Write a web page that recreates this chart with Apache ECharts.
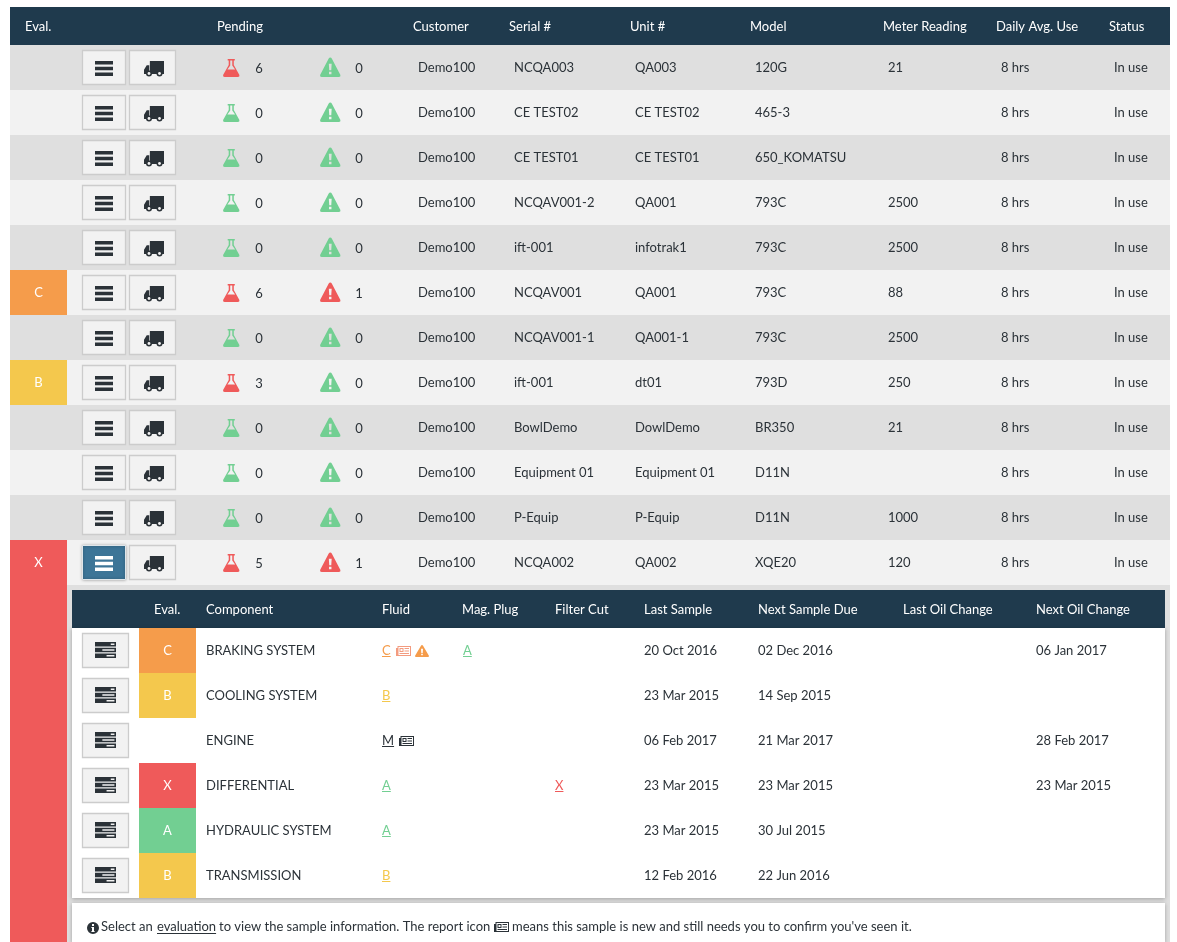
<!DOCTYPE html>
<html>
<head>
<meta charset="utf-8">
<title>Equipment list</title>
<script src="https://cdn.jsdelivr.net/npm/echarts@6/dist/echarts.min.js"></script>
<style>
  html, body { margin: 0; padding: 0; background: #fff; }
  #chart { width: 1177px; height: 942px; }
</style>
</head>
<body>
<div id="chart"></div>
<script>
// equipment rows
const rowEvals = ['', '', '', '', '', 'C', '', 'B', '', '', '', 'X'];
const pendingSamples = [6, 0, 0, 0, 0, 6, 0, 3, 0, 0, 0, 5];
const pendingAlerts = [0, 0, 0, 0, 0, 1, 0, 0, 0, 0, 0, 1];
const customers = ['Demo100', 'Demo100', 'Demo100', 'Demo100', 'Demo100', 'Demo100', 'Demo100', 'Demo100', 'Demo100', 'Demo100', 'Demo100', 'Demo100'];
const serials = ['NCQA003', 'CE TEST02', 'CE TEST01', 'NCQAV001-2', 'ift-001', 'NCQAV001', 'NCQAV001-1', 'ift-001', 'BowlDemo', 'Equipment 01', 'P-Equip', 'NCQA002'];
const units = ['QA003', 'CE TEST02', 'CE TEST01', 'QA001', 'infotrak1', 'QA001', 'QA001-1', 'dt01', 'DowlDemo', 'Equipment 01', 'P-Equip', 'QA002'];
const models = ['120G', '465-3', '650_KOMATSU', '793C', '793C', '793C', '793C', '793D', 'BR350', 'D11N', 'D11N', 'XQE20'];
const meters = ['21', '', '', '2500', '2500', '88', '2500', '250', '21', '', '1000', '120'];
const dailyUse = ['8 hrs', '8 hrs', '8 hrs', '8 hrs', '8 hrs', '8 hrs', '8 hrs', '8 hrs', '8 hrs', '8 hrs', '8 hrs', '8 hrs'];
const statuses = ['In use', 'In use', 'In use', 'In use', 'In use', 'In use', 'In use', 'In use', 'In use', 'In use', 'In use', 'In use'];
const activeRow = 11;

// component rows of the open equipment
const compEvals = ['C', 'B', '', 'X', 'A', 'B'];
const compNames = ['BRAKING SYSTEM', 'COOLING SYSTEM', 'ENGINE', 'DIFFERENTIAL', 'HYDRAULIC SYSTEM', 'TRANSMISSION'];
const fluidGrades = ['C', 'B', 'M', 'A', 'A', 'B'];
const fluidReports = [1, 0, 1, 0, 0, 0];
const fluidAlerts = [1, 0, 0, 0, 0, 0];
const magPlugs = ['A', '', '', '', '', ''];
const filterCuts = ['', '', '', 'X', '', ''];
const lastSamples = ['20 Oct 2016', '23 Mar 2015', '06 Feb 2017', '23 Mar 2015', '23 Mar 2015', '12 Feb 2016'];
const nextSamples = ['02 Dec 2016', '14 Sep 2015', '21 Mar 2017', '23 Mar 2015', '30 Jul 2015', '22 Jun 2016'];
const lastOilChanges = ['', '', '', '', '', ''];
const nextOilChanges = ['06 Jan 2017', '', '28 Feb 2017', '23 Mar 2015', '', ''];

const outerHeaders = ['Eval.', 'Pending', 'Customer', 'Serial #', 'Unit #', 'Model', 'Meter Reading', 'Daily Avg. Use', 'Status'];
const innerHeaders = ['Eval.', 'Component', 'Fluid', 'Mag. Plug', 'Filter Cut', 'Last Sample', 'Next Sample Due', 'Last Oil Change', 'Next Oil Change'];
const noteParts = ['Select an', 'evaluation', 'to view the sample information. The report icon', "means this sample is new and still needs you to confirm you've seen it."];

const evalColors = { A: '#72cf92', B: '#f4c84d', C: '#f59c4b', X: '#ef5a5a' };
const ink = '#2b3238';
const navy = '#1f3a4d';
const font = '13px Lato';

// column anchors, in page pixels along each grid's x axis
const outerHeaderX = [25, 217, 413, 509, 630, 750, 883, 996, 1109];
const innerHeaderX = [154, 206, 382, 462, 555, 644, 758, 903, 1036];
const noteX = [101, 157, 219, 512];

const icons = {
  menu: 'M0 0H18V3.5H0Z M0 5.8H18V9.3H0Z M0 11.6H18V15H0Z',
  truck: 'M6 0H19.5V12.5H6Z M0.4 8.4L3 4H5.4V12.5H0.4Z',
  server: 'M0 0H20V4.4H0Z M15 1.5V2.9H18.5V1.5Z M0 5.8H20V10.2H0Z M7 7.3V8.7H18.5V7.3Z M0 11.6H20V16H0Z M11 13.1V14.5H18.5V13.1Z',
  flask: 'M4.5 0H11.5V1.5H10.5V6L16 16Q16.5 18 14.5 18H1.5Q-0.5 18 0 16L5.5 6V1.5H4.5Z M7 1.5V6.5L4.2 10.5H11.8L9 6.5V1.5Z',
  warn: 'M10 0Q11 0 11.5 1L20 17Q20.5 19 18.5 19H1.5Q-0.5 19 0 17L8.5 1Q9 0 10 0Z M8.6 6L9 12.5H11L11.4 6Z M8.8 14V16.2H11.2V14Z',
  report: 'M1.5 0H15V10H0V2H1.5Z M2.5 1V9H14V1Z M3.5 2H7.5V3H4.5V5H6.5V3H7.5V6H3.5Z M8.5 2H13V3H8.5Z M8.5 4.5H13V5.5H8.5Z M3.5 7H13V8H3.5Z',
  info: 'M6 0A6 6 0 1 1 5.99 0Z M5 2V4H7V2Z M4.4 5V6H5V9H4.4V10H7.6V9H7V5Z'
};

const measure = document.createElement('canvas').getContext('2d');
measure.font = font;
const textWidth = (text) => measure.measureText(text).width;

// one grid per table block; x axes run in page pixels, y axes are the rows
const blocks = [
  { left: 67, top: 585, right: 1170, bottom: 942, rows: ['strip'], fill: '#dfdfdf' },
  { left: 10, top: 585, right: 67, bottom: 942, rows: ['open'], fill: evalColors[rowEvals[activeRow]] },
  { left: 10, top: 7, right: 1170, bottom: 45, rows: ['head'], fill: navy },
  { left: 10, top: 45, right: 1170, bottom: 585, rows: serials },
  { left: 72, top: 590, right: 1165, bottom: 628, rows: ['head'], fill: navy },
  { left: 72, top: 628, right: 1165, bottom: 898, rows: compNames, fill: '#fff', shadow: true },
  { left: 72, top: 903, right: 1165, bottom: 942, rows: ['note'], fill: '#fff', shadow: true }
];
const HEAD = 2, ROWS = 3, SUB_HEAD = 4, SUB_ROWS = 5, NOTE = 6;

const grid = blocks.map((b) => ({
  show: !!b.fill,
  left: b.left,
  top: b.top,
  width: b.right - b.left,
  height: b.bottom - b.top,
  backgroundColor: b.fill || 'transparent',
  borderWidth: 0,
  shadowBlur: b.shadow ? 4 : 0,
  shadowColor: b.shadow ? 'rgba(0,0,0,0.28)' : 'transparent',
  shadowOffsetY: b.shadow ? 1 : 0
}));
const xAxis = blocks.map((b, i) => ({ type: 'value', gridIndex: i, min: b.left, max: b.right, show: false }));
const yAxis = blocks.map((b, i) => ({ type: 'category', gridIndex: i, data: b.rows, inverse: true, show: false }));

const custom = (gridIndex, x, values, renderItem) => ({
  type: 'custom',
  xAxisIndex: gridIndex,
  yAxisIndex: gridIndex,
  clip: false,
  silent: true,
  animation: false,
  data: values.map((v, i) => [x, i]),
  renderItem
});

const textColumn = (gridIndex, x, values, opts = {}) =>
  custom(gridIndex, x, values, (params, api) => {
    const text = String(values[params.dataIndex]);
    if (!text) return null;
    const p = api.coord([api.value(0), api.value(1)]);
    return {
      type: 'text',
      style: {
        x: p[0],
        y: p[1] + (opts.dy || 0),
        text,
        fill: opts.color || ink,
        font,
        align: opts.align || 'left',
        verticalAlign: 'middle'
      }
    };
  });

const cellColumn = (gridIndex, x0, x1, fills) =>
  custom(gridIndex, x0, fills, (params, api) => {
    const fill = fills[params.dataIndex];
    if (!fill) return null;
    const start = api.coord([x0, api.value(1)]);
    const end = api.coord([x1, api.value(1)]);
    const h = api.size([0, 1])[1];
    return { type: 'rect', shape: { x: start[0], y: start[1] - h / 2, width: end[0] - start[0], height: h }, style: { fill } };
  });

const iconColumn = (gridIndex, x, w, h, dy, pathData, colorOf) =>
  custom(gridIndex, x, blocks[gridIndex].rows, (params, api) => {
    const fill = colorOf(params.dataIndex);
    if (!fill) return null;
    const p = api.coord([x, api.value(1)]);
    return {
      type: 'path',
      shape: { pathData, layout: 'cover', x: p[0], y: p[1] + dy, width: w, height: h },
      style: { fill }
    };
  });

const buttonColumn = (gridIndex, x0, x1, fillOf) =>
  custom(gridIndex, x0, blocks[gridIndex].rows, (params, api) => {
    const start = api.coord([x0, api.value(1)]);
    const end = api.coord([x1, api.value(1)]);
    const active = fillOf(params.dataIndex);
    return {
      type: 'rect',
      shape: { x: start[0] + 0.5, y: start[1] - 17, width: end[0] - start[0] - 1, height: 34 },
      style: active
        ? { fill: active, stroke: '#e0e6ea', lineWidth: 1, shadowBlur: 3, shadowColor: 'rgba(0,0,0,0.35)' }
        : { fill: '#f2f2f2', stroke: '#cccccc', lineWidth: 1.3 }
    };
  });

// underlined grade letters, with the report and alert marks that follow them
const gradeColor = (g) => evalColors[g] || ink;
const gradeColumn = (x, values) =>
  custom(SUB_ROWS, x, values, (params, api) => {
    const text = values[params.dataIndex];
    if (!text) return null;
    const p = api.coord([x, api.value(1)]);
    const fill = gradeColor(text);
    return {
      type: 'group',
      children: [
        { type: 'text', style: { x: p[0], y: p[1], text, fill, font, align: 'left', verticalAlign: 'middle' } },
        { type: 'rect', shape: { x: p[0], y: p[1] + 5.5, width: textWidth(text), height: 1 }, style: { fill } }
      ]
    };
  });

const reportTint = { C: '#f39b7f', M: ink };
const fluidMarks = custom(SUB_ROWS, innerHeaderX[2], fluidGrades, (params, api) => {
  const i = params.dataIndex;
  const p = api.coord([innerHeaderX[2], api.value(1)]);
  const children = [];
  const x = Math.round(p[0] + textWidth(fluidGrades[i]) + 5);
  if (fluidReports[i]) {
    children.push({
      type: 'path',
      shape: { pathData: icons.report, layout: 'cover', x, y: p[1] - 4.5, width: 15, height: 10 },
      style: { fill: reportTint[fluidGrades[i]] || ink }
    });
  }
  if (fluidAlerts[i]) {
    children.push({
      type: 'path',
      shape: { pathData: icons.warn, layout: 'cover', x: x + 19, y: p[1] - 5.5, width: 14, height: 12 },
      style: { fill: gradeColor(fluidGrades[i]) }
    });
  }
  return { type: 'group', children };
});

// wheels sit on the truck body as two separate discs
const truckWheels = custom(ROWS, 149, serials, (params, api) => {
  const p = api.coord([149, api.value(1)]);
  const wheel = (dx) => [
    { type: 'circle', shape: { cx: p[0] + dx, cy: p[1] + 6, r: 3 }, style: { fill: ink } },
    { type: 'circle', shape: { cx: p[0] + dx, cy: p[1] + 6, r: 1.4 }, style: { fill: '#f2f2f2' } }
  ];
  return { type: 'group', children: [...wheel(0), ...wheel(10.5)] };
});

const rowBands = blocks[ROWS].rows.map((r, i) => (i % 2 ? '#f2f2f2' : '#dfdfdf'));
const countColor = (values) => (i) => (values[i] > 0 ? evalColors.X : evalColors.A);

const series = [
  // outer header
  ...outerHeaders.map((h, i) => textColumn(HEAD, outerHeaderX[i], [h], { color: '#fff', dy: 1 })),
  // equipment rows
  cellColumn(ROWS, 10, 1170, rowBands),
  cellColumn(ROWS, 10, 67, rowEvals.map((e) => evalColors[e] || '')),
  textColumn(ROWS, 38.5, rowEvals, { color: '#fff', align: 'center' }),
  buttonColumn(ROWS, 82, 126, (i) => (i === activeRow ? '#3d7597' : '')),
  buttonColumn(ROWS, 129, 176, () => ''),
  iconColumn(ROWS, 95, 18, 15, -6.5, icons.menu, (i) => (i === activeRow ? '#fff' : ink)),
  iconColumn(ROWS, 144, 20, 13, -6.5, icons.truck, () => ink),
  truckWheels,
  iconColumn(ROWS, 223, 16.5, 18, -8.5, icons.flask, countColor(pendingSamples)),
  textColumn(ROWS, 259, pendingSamples, { align: 'center', dy: 1 }),
  iconColumn(ROWS, 320, 20.5, 19.5, -10, icons.warn, countColor(pendingAlerts)),
  textColumn(ROWS, 359, pendingAlerts, { align: 'center', dy: 1 }),
  textColumn(ROWS, 418, customers),
  textColumn(ROWS, 514, serials),
  textColumn(ROWS, 635, units),
  textColumn(ROWS, 755, models),
  textColumn(ROWS, 888, meters),
  textColumn(ROWS, 1001, dailyUse),
  textColumn(ROWS, 1114, statuses),
  // component table
  ...innerHeaders.map((h, i) => textColumn(SUB_HEAD, innerHeaderX[i], [h], { color: '#fff', dy: 1 })),
  buttonColumn(SUB_ROWS, 82, 129, () => ''),
  iconColumn(SUB_ROWS, 95, 21, 16, -8.5, icons.server, () => ink),
  cellColumn(SUB_ROWS, 139, 196, compEvals.map((e) => evalColors[e] || '')),
  textColumn(SUB_ROWS, 167.5, compEvals, { color: '#fff', align: 'center' }),
  textColumn(SUB_ROWS, 206, compNames),
  gradeColumn(382, fluidGrades),
  fluidMarks,
  gradeColumn(463, magPlugs),
  gradeColumn(555, filterCuts),
  textColumn(SUB_ROWS, 644, lastSamples),
  textColumn(SUB_ROWS, 758, nextSamples),
  textColumn(SUB_ROWS, 903, lastOilChanges),
  textColumn(SUB_ROWS, 1036, nextOilChanges),
  // note under the table
  iconColumn(NOTE, 87, 12, 12, -0.5, icons.info, () => ink),
  ...noteParts.map((t, i) => textColumn(NOTE, noteX[i], [t], { dy: 4.5 })),
  iconColumn(NOTE, 494, 15, 10, -0.5, icons.report, () => ink),
  custom(NOTE, noteX[1], [noteParts[1]], (params, api) => {
    const p = api.coord([noteX[1], api.value(1)]);
    return { type: 'rect', shape: { x: p[0], y: p[1] + 10.5, width: textWidth(noteParts[1]), height: 1 }, style: { fill: ink } };
  })
];

const chart = echarts.init(document.getElementById('chart'));
chart.setOption({ animation: false, backgroundColor: '#fff', grid, xAxis, yAxis, series });
</script>
</body>
</html>
